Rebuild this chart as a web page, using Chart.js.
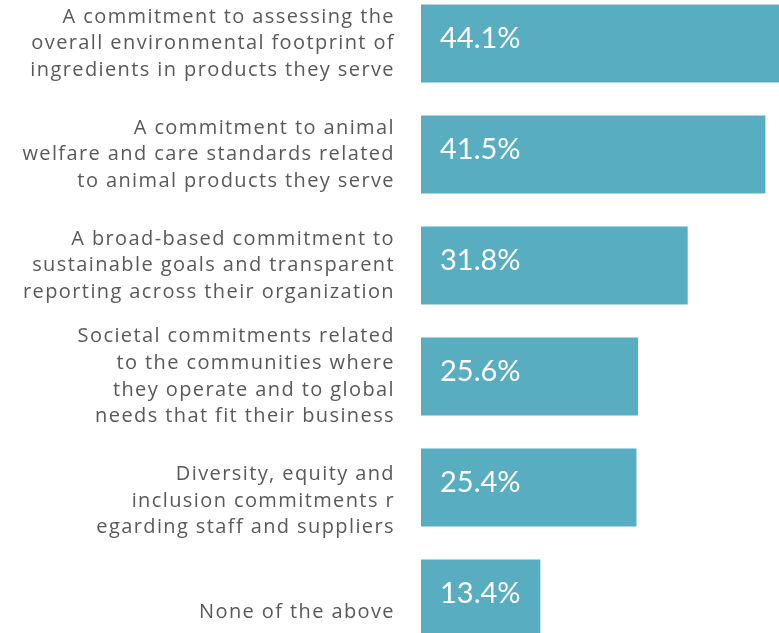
<!DOCTYPE html>
<html>
<head>
<meta charset="utf-8">
<script src="https://cdn.jsdelivr.net/npm/chart.js@4"></script>
<style>
  html, body { margin: 0; padding: 0; background: #fff; overflow: hidden; }
  #wrap { position: absolute; left: 0; top: -12px; width: 779px; height: 666px; }
</style>
</head>
<body>
<div id="wrap"><canvas id="commitments-chart"></canvas></div>
<script>
const categories = [
    ['A commitment to assessing the', 'overall environmental footprint of', 'ingredients in products they serve'],
    ['A commitment to animal', 'welfare and care standards related', 'to animal products they serve'],
    ['A broad-based commitment to', 'sustainable goals and transparent', 'reporting across their organization'],
    ['Societal commitments related', 'to the communities where', 'they operate and to global', 'needs that fit their business'],
    ['', 'Diversity, equity and', 'inclusion commitments r', 'egarding staff and suppliers'],
    ['', 'None of the above']
];
const shares = [44.1, 41.5, 31.8, 25.6, 25.4, 13.4];

const barColor = '#58aec0';
const labelColor = '#58595b';

// wider tracking for the category labels
const labelSpacing = {
    id: 'labelSpacing',
    beforeDraw(chart) {
        chart.ctx.letterSpacing = '1.4px';
    }
};

// writes the percentage inside each bar, near its left end
const valueLabels = {
    id: 'valueLabels',
    afterDatasetsDraw(chart) {
        let ctx = chart.ctx;
        let meta = chart.getDatasetMeta(0);
        ctx.save();
        ctx.letterSpacing = '0px';
        ctx.font = '29px Lato';
        ctx.fillStyle = '#ffffff';
        ctx.textAlign = 'left';
        ctx.textBaseline = 'middle';
        meta.data.forEach((bar, i) => {
            ctx.fillText(shares[i].toFixed(1) + '%', bar.base + 19, bar.y - 5);
        });
        ctx.restore();
    }
};

let ctx = document.getElementById('commitments-chart').getContext('2d');
window.commitmentsChart = new Chart(ctx, {
    type: 'bar',
    data: {
        labels: categories,
        datasets: [{
            data: shares,
            backgroundColor: barColor,
            borderWidth: 0,
            base: -1.5,
            barPercentage: 0.703,
            categoryPercentage: 1
        }]
    },
    options: {
        indexAxis: 'y',
        responsive: true,
        maintainAspectRatio: false,
        animation: false,
        layout: { padding: 0 },
        plugins: {
            legend: { display: false },
            tooltip: { enabled: false }
        },
        scales: {
            x: {
                display: false,
                min: -1.5,
                max: 43.2
            },
            y: {
                afterFit: function (scale) {
                    scale.width = 421;  // bars start at the same x for every row
                    scale.paddingTop = 0;
                    scale.paddingBottom = 0;
                },
                grid: { display: false, drawTicks: false },
                border: { display: false },
                ticks: {
                    padding: 26,
                    color: labelColor,
                    font: { family: 'Open Sans', size: 20, lineHeight: 1.33 }
                }
            }
        }
    },
    plugins: [labelSpacing, valueLabels]
});
</script>
</body>
</html>
